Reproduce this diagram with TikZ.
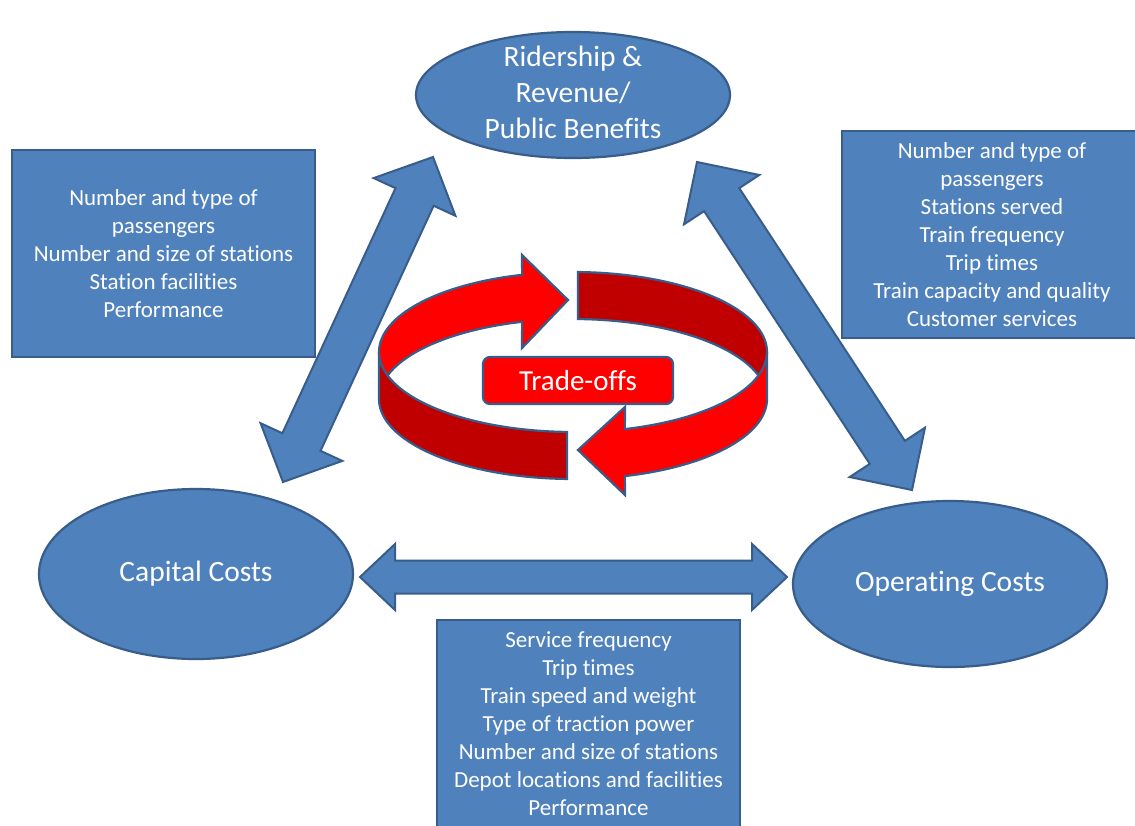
\documentclass[tikz,border=0pt]{standalone}
\usepackage{fontspec}
\setmainfont[Ligatures=NoCommon]{Carlito}
\usetikzlibrary{shapes.geometric,calc}
\definecolor{bfill}{HTML}{4F81BD}
\definecolor{bline}{HTML}{385D8A}
\definecolor{rbright}{HTML}{FF0000}
\definecolor{rdark}{HTML}{C00000}
\newcommand{\twoheadarrow}[5]{%
  \coordinate (h1) at ($(#1)!#3!(#2)$);
  \coordinate (h2) at ($(#2)!#3!(#1)$);
  \filldraw[barrow] (#1) -- ($(h1)!#4!90:(#2)$) -- ($(h1)!#5!90:(#2)$)
    -- ($(h2)!#5!-90:(#1)$) -- ($(h2)!#4!-90:(#1)$) -- (#2)
    -- ($(h2)!#4!90:(#1)$) -- ($(h2)!#5!90:(#1)$)
    -- ($(h1)!#5!-90:(#2)$) -- ($(h1)!#4!-90:(#2)$) -- cycle;}
\tikzset{
  infobox/.style={draw=bline, fill=bfill, line width=2pt, text=white, align=center,
    inner sep=0pt, font=\fontsize{23}{28}\selectfont},
  goal/.style={ellipse, draw=bline, fill=bfill, line width=2.2pt, text=white, align=center,
    inner sep=0pt, font=\fontsize{29.5}{36}\selectfont},
  barrow/.style={draw=bline, fill=bfill, line width=2pt, line join=miter},
  rb/.style={draw=bline, fill=rbright, line width=2.2pt, line join=miter},
  rd/.style={draw=bline, fill=rdark, line width=2.2pt, line join=miter},
  tradebox/.style={draw=bline, fill=rbright, line width=2.2pt, rounded corners=7pt, text=white,
    minimum width=190pt, minimum height=47pt, inner sep=0pt, font=\fontsize{29}{34}\selectfont}
}
\begin{document}
\begin{tikzpicture}[x=1pt,y=-1pt]
\useasboundingbox (0,0) rectangle (1135,825);
\clip (0,0) rectangle (1135,825);
\fill[white] (0,0) rectangle (1135,825);
% info boxes
\node[infobox, minimum width=303pt, minimum height=207pt] (boxL) at (163.5,253.5)
  {Number and type of\\passengers\\Number and size of stations\\Station facilities\\Performance};
\node[infobox, minimum width=300pt, minimum height=207pt] (boxR) at (992,234.5)
  {Number and type of\\passengers\\Stations served\\Train frequency\\Trip times\\Train capacity and quality\\Customer services};
\node[infobox, minimum width=303pt, minimum height=208pt] (boxB) at (588.5,724)
  {Service frequency\\Trip times\\Train speed and weight\\Type of traction power\\Number and size of stations\\Depot locations and facilities\\Performance};
% double arrows
\coordinate (lt) at (433,157);
\coordinate (lb) at (283,482);
\coordinate (rt) at (697,162);
\coordinate (rbt) at (912,490);
\coordinate (hl) at (360,577);
\coordinate (hr) at (787,577);
\twoheadarrow{lt}{lb}{44pt}{45pt}{21pt}
\twoheadarrow{rt}{rbt}{45pt}{45pt}{21pt}
\twoheadarrow{hl}{hr}{35pt}{33pt}{16.5pt}
% goal ellipses
\node[goal, minimum width=314pt, minimum height=126pt] (ride) at (573,95) {};
\node[text=white, align=center, font=\fontsize{29.5}{36}\selectfont] (ridetext) at (573,92)
  {Ridership \&\\Revenue/\\Public Benefits};
\node[goal, minimum width=314pt, minimum height=170pt] (cap) at (196,574) {Capital Costs};
\node[goal, minimum width=314pt, minimum height=166pt] (oper) at (950,584) {Operating Costs};
% circular trade-off arrow
\filldraw[rd] plot[domain=88.5:0,samples=40] ({573+194*cos(\x)},{352-80*sin(\x)})
  -- plot[domain=0:-17.1,samples=10] ({573+194*cos(\x)},{352-80*sin(\x)})
  -- plot[domain=17.1:88.5,samples=40] ({573+194*cos(\x)},{399-80*sin(\x)}) -- cycle;
\filldraw[rb] plot[domain=180:105.2,samples=40] ({573+194*cos(\x)},{352-80*sin(\x)})
  -- (522,255) -- (568,300) -- (522,348)
  -- plot[domain=105.2:162.9,samples=40] ({573+194*cos(\x)},{399-80*sin(\x)})
  -- plot[domain=197.1:180,samples=10] ({573+194*cos(\x)},{352-80*sin(\x)}) -- cycle;
\filldraw[rd] plot[domain=180:268.2,samples=40] ({573+194*cos(\x)},{352-80*sin(\x)})
  -- plot[domain=268.2:180,samples=40] ({573+194*cos(\x)},{399-80*sin(\x)}) -- cycle;
\filldraw[rb] plot[domain=360:285.5,samples=40] ({573+194*cos(\x)},{399-80*sin(\x)})
  -- (625,495) -- (578,450) -- (625,407)
  -- plot[domain=285.5:360,samples=40] ({573+194*cos(\x)},{352-80*sin(\x)}) -- cycle;
\node[tradebox] (trade) at (578,380.5) {Trade-offs};
\end{tikzpicture}
\end{document}
